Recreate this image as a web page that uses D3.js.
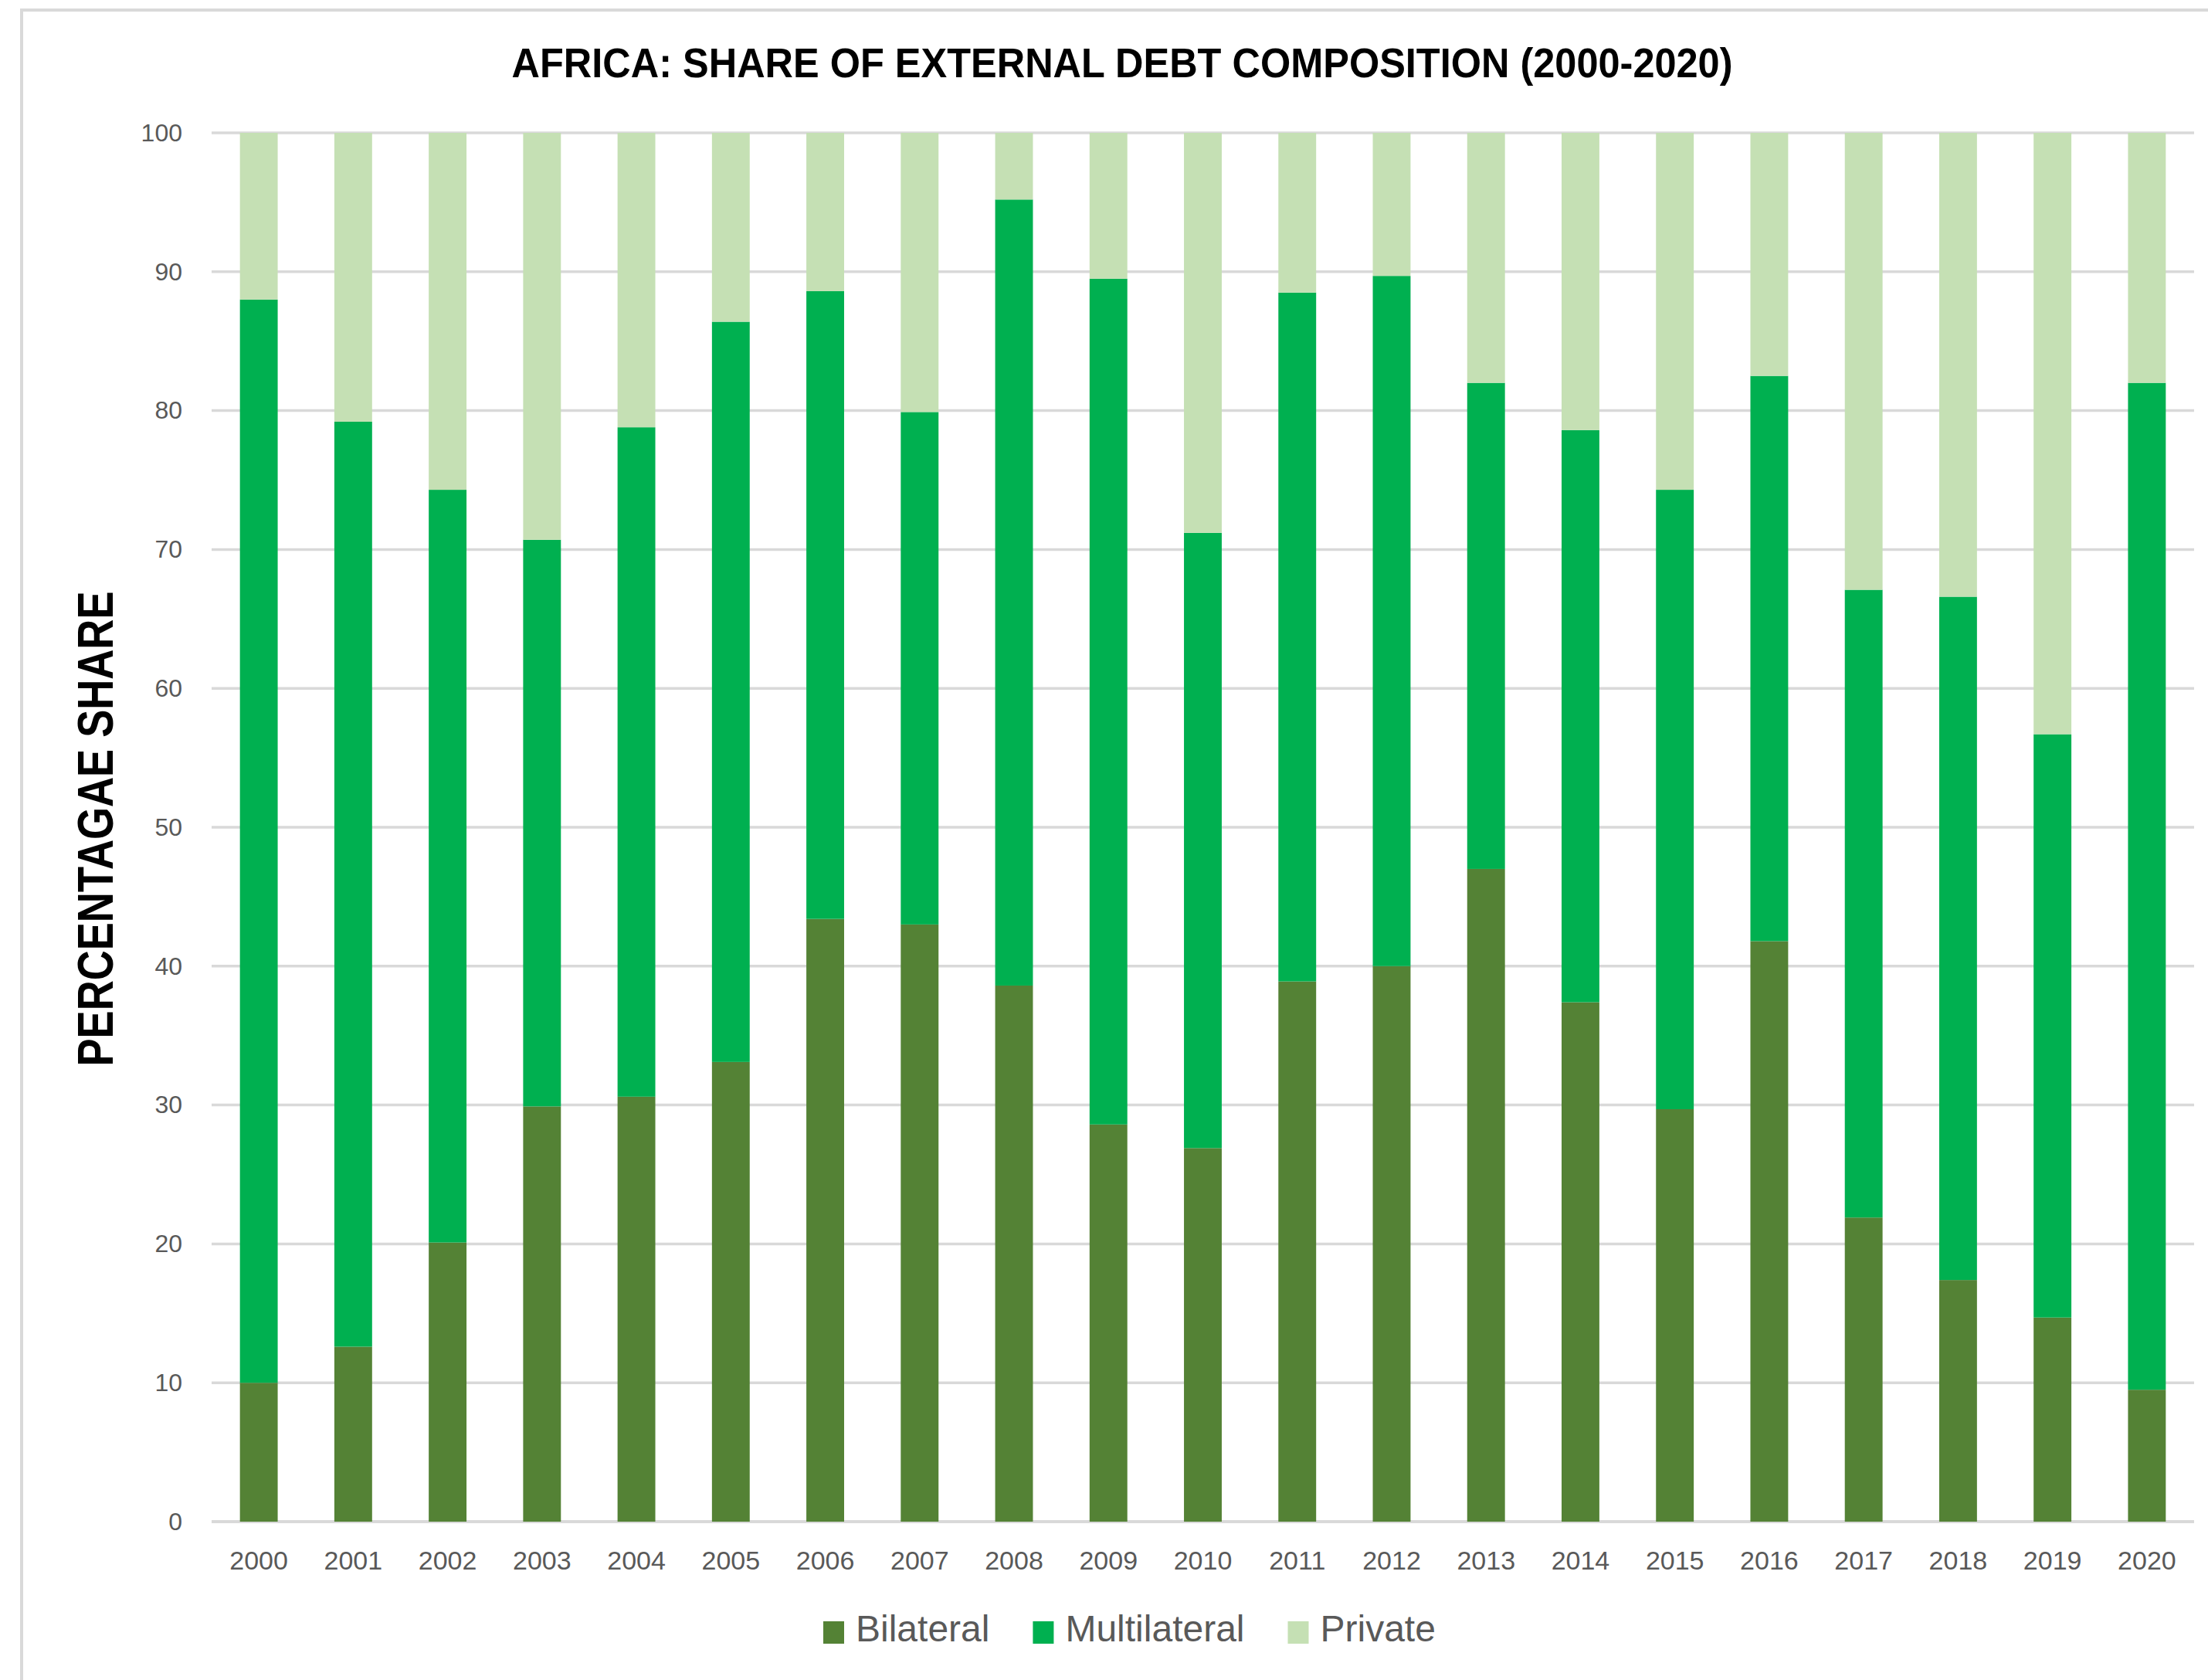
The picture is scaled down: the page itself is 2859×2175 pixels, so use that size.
<!DOCTYPE html>
<html>
<head>
<meta charset="utf-8">
<script src="https://cdn.jsdelivr.net/npm/d3@7"></script>
<style>
    body { margin: 0; background: #fff; }
    text { font-family: "Liberation Sans", Arial, sans-serif; }
</style>
</head>
<body>
<div id="chart"></div>
<script>
// data
const years = ["2000", "2001", "2002", "2003", "2004", "2005", "2006", "2007", "2008", "2009", "2010",
    "2011", "2012", "2013", "2014", "2015", "2016", "2017", "2018", "2019", "2020"];
const bilateral = [10.0, 12.6, 20.1, 29.9, 30.6, 33.1, 43.4, 43.0, 38.6, 28.6, 26.9,
    38.9, 40.0, 47.0, 37.4, 29.7, 41.8, 21.9, 17.4, 14.7, 9.5];
// top of the multilateral segment (bilateral + multilateral)
const multilateralTop = [88.0, 79.2, 74.3, 70.7, 78.8, 86.4, 88.6, 79.9, 95.2, 89.5, 71.2,
    88.5, 89.7, 82.0, 78.6, 74.3, 82.5, 67.1, 66.6, 56.7, 82.0];
const yTicks = [0, 10, 20, 30, 40, 50, 60, 70, 80, 90, 100];
const seriesKeys = ["Bilateral", "Multilateral", "Private"];
const colors = {Bilateral: "#548235", Multilateral: "#00B050", Private: "#C5E0B4"};

const rows = years.map((yr, i) => ({
    year: yr,
    Bilateral: bilateral[i],
    Multilateral: multilateralTop[i] - bilateral[i],
    Private: 100 - multilateralTop[i]
}));

const W = 2859, H = 2175;
const plot = {left: 274, right: 2841, top: 172, bottom: 1970};

const svg = d3.select("#chart").append("svg")
    .attr("width", W)
    .attr("height", H);

svg.append("rect").attr("width", W).attr("height", H).attr("fill", "#fff");

// frame (only left and top edges are visible in the original crop)
svg.append("path")
    .attr("d", `M28,${H} L28,13 L${W},13`)
    .attr("fill", "none")
    .attr("stroke", "#D9D9D9")
    .attr("stroke-width", 4);

// scales
const x = d3.scaleBand()
    .domain(years)
    .range([plot.left, plot.right])
    .paddingInner(0.6)
    .paddingOuter(0.3);

const y = d3.scaleLinear()
    .domain([0, 100])
    .range([plot.bottom, plot.top]);

// gridlines
svg.append("g")
    .selectAll("line")
    .data(yTicks)
    .join("line")
    .attr("x1", plot.left)
    .attr("x2", plot.right)
    .attr("y1", d => y(d))
    .attr("y2", d => y(d))
    .attr("stroke", "#D9D9D9")
    .attr("stroke-width", d => d === 0 ? 4 : 3.5);

// y axis labels
const yAxis = svg.append("g")
    .attr("transform", `translate(${plot.left - 38},0)`)
    .call(d3.axisLeft(y).tickValues(yTicks).tickSize(0).tickPadding(0));
yAxis.select(".domain").remove();
yAxis.selectAll("text")
    .style("font-family", "'Liberation Sans', Arial, sans-serif")
    .attr("font-size", 32)
    .attr("fill", "#595959");

// stacked bars
const stack = d3.stack().keys(seriesKeys);
const series = stack(rows);

svg.append("g")
    .selectAll("g")
    .data(series)
    .join("g")
    .attr("fill", d => colors[d.key])
    .selectAll("rect")
    .data(d => d)
    .join("rect")
    .attr("x", d => x(d.data.year))
    .attr("width", x.bandwidth())
    .attr("y", d => y(d[1]))
    .attr("height", d => y(d[0]) - y(d[1]));

// x axis labels
const xAxis = svg.append("g")
    .attr("transform", `translate(0,${plot.bottom + 38})`)
    .call(d3.axisBottom(x).tickSize(0).tickPadding(0));
xAxis.select(".domain").remove();
xAxis.selectAll("text")
    .style("font-family", "'Liberation Sans', Arial, sans-serif")
    .attr("font-size", 34)
    .attr("fill", "#595959");

// title
svg.append("text")
    .attr("x", 1453)
    .attr("y", 100)
    .attr("text-anchor", "middle")
    .attr("font-size", 53)
    .attr("font-weight", "bold")
    .attr("fill", "#000")
    .attr("textLength", 1581)
    .attr("lengthAdjust", "spacingAndGlyphs")
    .text("AFRICA: SHARE OF EXTERNAL DEBT COMPOSITION (2000-2020)");

// y axis title
svg.append("text")
    .attr("transform", "translate(146,1073) rotate(-90)")
    .attr("text-anchor", "middle")
    .attr("font-size", 65)
    .attr("font-weight", "bold")
    .attr("fill", "#000")
    .attr("textLength", 615)
    .attr("lengthAdjust", "spacingAndGlyphs")
    .text("PERCENTAGAE SHARE");

// legend
const legend = svg.append("g").attr("transform", "translate(1066,2099)");
let lx = 0;
seriesKeys.forEach(key => {
    const item = legend.append("g").attr("transform", `translate(${lx},0)`);
    item.append("rect")
        .attr("width", 27)
        .attr("height", 29)
        .attr("fill", colors[key]);
    const t = item.append("text")
        .attr("x", 42)
        .attr("y", 26)
        .attr("font-size", 48)
        .attr("fill", "#595959")
        .text(key);
    lx += 42 + t.node().getComputedTextLength() + 56;
});
</script>
</body>
</html>
